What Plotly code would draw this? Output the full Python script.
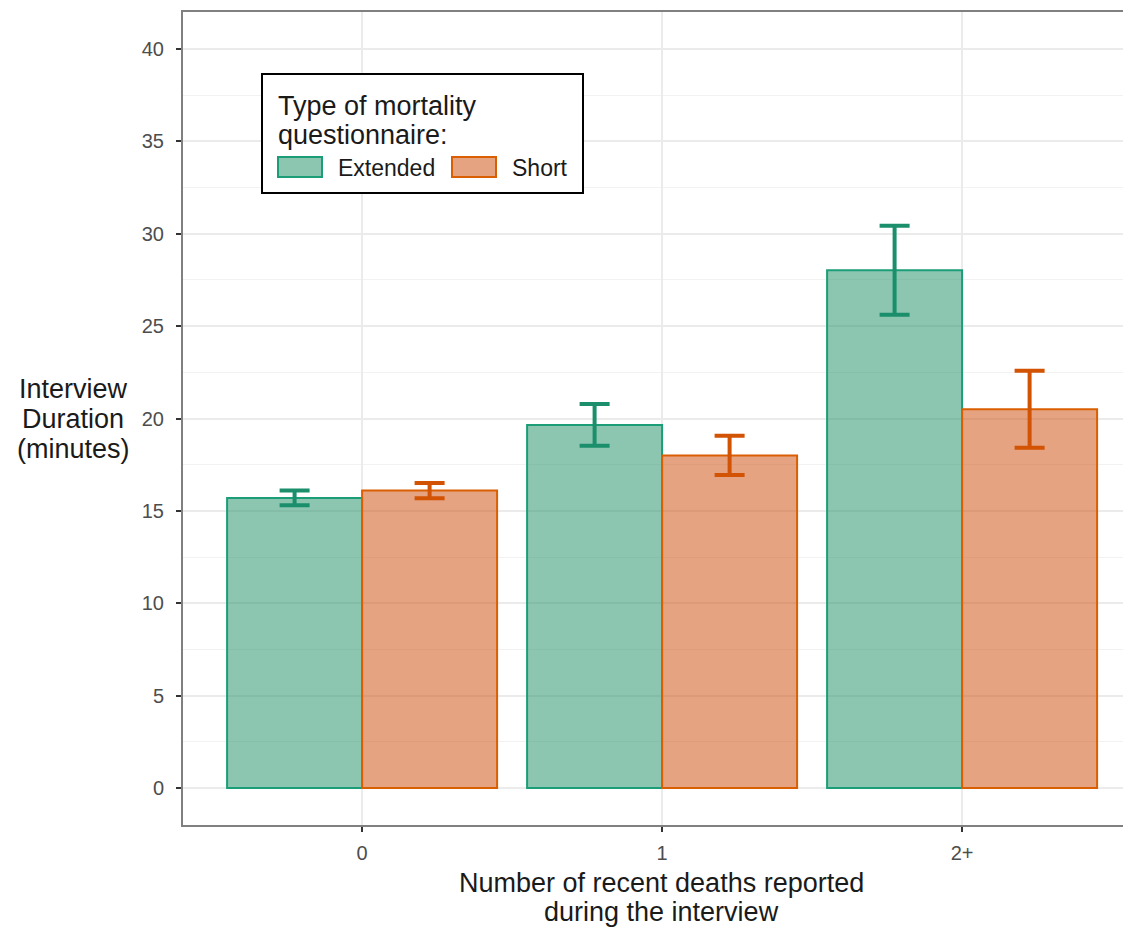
import plotly.graph_objects as go

categories = ["0", "1", "2+"]
extended_mean = [15.70, 19.65, 28.02]
extended_err = [0.40, 1.13, 2.41]
short_mean = [16.10, 18.00, 20.50]
short_err = [0.41, 1.06, 2.08]

legend_title_lines = ["Type of mortality", "questionnaire:"]
legend_labels = ["Extended", "Short"]
x_title_lines = ["Number of recent deaths reported", "during the interview"]
y_title_lines = ["Interview", "Duration", "(minutes)"]

GREEN_LINE = "#1b9e77"
ORANGE_LINE = "#d95f02"
GREEN_FILL = "rgba(48,151,111,0.55)"
ORANGE_FILL = "rgba(210,88,28,0.55)"
FONT = "Liberation Sans, Arial, Helvetica, sans-serif"
TXT = "#1a1a1a"

# page body has an 8px margin; compensate so the plot panel lands at 183..1131 x 12..825
W, H = 1123, 920
ML, MR, MT, MB = 175, 0, 4, 103
PW, PH = W - ML - MR, H - MT - MB
OX, OY = 8, 8


def px(xp):
    return (xp - OX - ML) / PW


def py(yp):
    return (MT + PH - (yp - OY)) / PH


fig = go.Figure()
fig.add_trace(go.Bar(
    x=categories, y=extended_mean, name=legend_labels[0],
    marker=dict(color=GREEN_FILL, line=dict(color=GREEN_LINE, width=2)),
    error_y=dict(type="data", array=extended_err, visible=True, color="#1b8f6b", thickness=4, width=15),
))
fig.add_trace(go.Bar(
    x=categories, y=short_mean, name=legend_labels[1],
    marker=dict(color=ORANGE_FILL, line=dict(color=ORANGE_LINE, width=2)),
    error_y=dict(type="data", array=short_err, visible=True, color="#d25303", thickness=4, width=15),
))

fig.update_layout(
    width=W, height=H,
    margin=dict(l=ML, r=MR, t=MT, b=MB),
    plot_bgcolor="white", paper_bgcolor="white",
    barmode="group", bargap=0.1, bargroupgap=0,
    font=dict(family=FONT, color=TXT),
    showlegend=False,
)
fig.update_xaxes(
    type="category", range=[-0.597, 2.563],
    showline=True, mirror=True, linecolor="#808080", linewidth=2,
    showgrid=True, gridcolor="#ebebeb", gridwidth=2,
    ticks="outside", ticklen=5, tickwidth=2, tickcolor="#333333",
    ticklabelstandoff=4,
    tickfont=dict(size=20, color="#4d4d4d"),
    zeroline=False,
)
fig.update_yaxes(
    range=[-2, 42], tick0=0, dtick=5,
    showline=True, mirror=False, linecolor="#808080", linewidth=2,
    showgrid=True, gridcolor="#ebebeb", gridwidth=2,
    minor=dict(dtick=2.5, showgrid=True, gridcolor="#f2f2f2", gridwidth=1),
    ticks="outside", ticklen=5, tickwidth=2, tickcolor="#333333",
    ticklabelstandoff=8,
    tickfont=dict(size=20, color="#4d4d4d"),
    zeroline=False,
)

# y-axis title (horizontal, as in the reference)
for txt, yc in zip(y_title_lines, [389, 419, 449]):
    fig.add_annotation(text=txt, xref="paper", yref="paper", x=px(73), y=py(yc),
                       xanchor="center", yanchor="middle", showarrow=False,
                       font=dict(size=27, color=TXT, family=FONT))

# x-axis title
for txt, yc in zip(x_title_lines, [883, 912]):
    fig.add_annotation(text=txt, xref="paper", yref="paper", x=px(661), y=py(yc),
                       xanchor="center", yanchor="middle", showarrow=False,
                       font=dict(size=27, color=TXT, family=FONT))

# legend box
fig.add_shape(type="rect", xref="paper", yref="paper",
              x0=px(262), x1=px(583), y0=py(193), y1=py(74),
              line=dict(color="black", width=2), fillcolor="white", layer="above")
for txt, yc in zip(legend_title_lines, [106, 135]):
    fig.add_annotation(text=txt, xref="paper", yref="paper", x=px(276), y=py(yc),
                       xanchor="left", yanchor="middle", showarrow=False,
                       font=dict(size=27, color=TXT, family=FONT))
swatches = [(278, 322, GREEN_FILL, GREEN_LINE, 336), (452, 496, ORANGE_FILL, ORANGE_LINE, 510)]
for (sx0, sx1, fill, line, tx), label in zip(swatches, legend_labels):
    fig.add_shape(type="rect", xref="paper", yref="paper",
                  x0=px(sx0), x1=px(sx1), y0=py(177), y1=py(157),
                  line=dict(color=line, width=2), fillcolor=fill, layer="above")
    fig.add_annotation(text=label, xref="paper", yref="paper", x=px(tx), y=py(168),
                       xanchor="left", yanchor="middle", showarrow=False,
                       font=dict(size=23, color=TXT, family=FONT))

fig.write_html("out.html")
